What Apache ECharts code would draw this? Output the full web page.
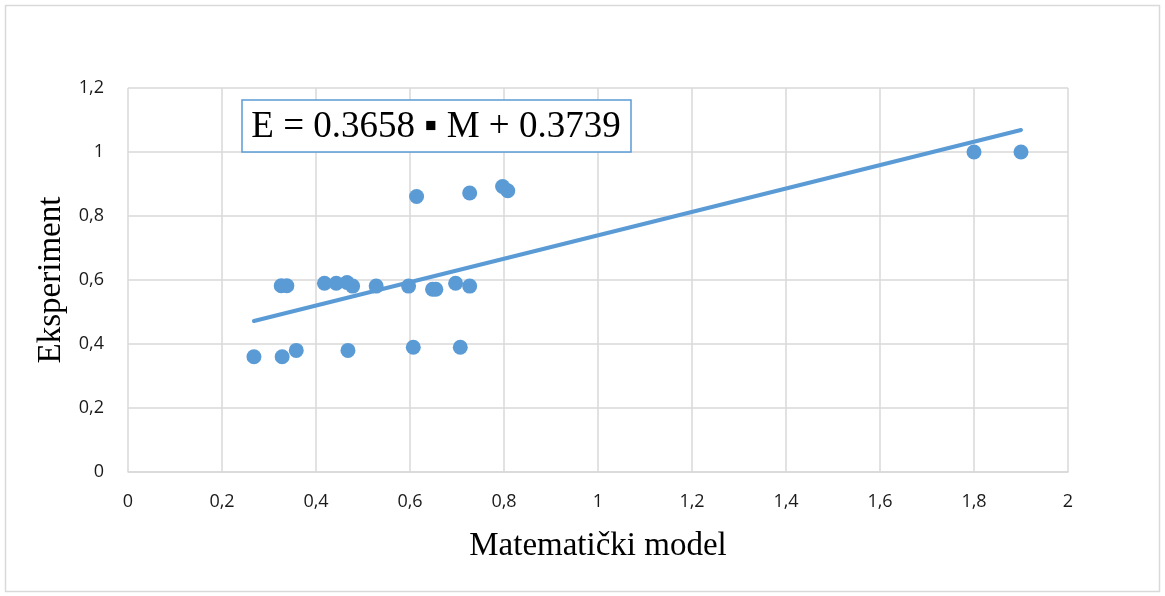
<!DOCTYPE html>
<html>
<head>
<meta charset="utf-8">
<script src="https://cdn.jsdelivr.net/npm/echarts@6/dist/echarts.min.js"></script>
<style>
  html, body { margin: 0; padding: 0; background: #fff; }
  #chart { width: 1165px; height: 596px; }
</style>
</head>
<body>
<div id="chart"></div>
<script>
// Model prediction (M) vs. measured value (E)
const modelValues = [0.268, 0.328, 0.358, 0.468, 0.607, 0.707,
  0.326, 0.338, 0.418, 0.443, 0.466, 0.478, 0.528, 0.597, 0.648, 0.655, 0.697, 0.727,
  0.614, 0.727, 0.797, 0.808, 1.8, 1.9];
const experimentValues = [0.36, 0.36, 0.38, 0.38, 0.39, 0.39,
  0.582, 0.582, 0.59, 0.59, 0.592, 0.581, 0.581, 0.581, 0.571, 0.571, 0.59, 0.581,
  0.861, 0.872, 0.892, 0.879, 1.0, 1.0];

// Linear fit E = slope * M + intercept
const slope = 0.3658;
const intercept = 0.3739;

const xTicks = [0, 0.2, 0.4, 0.6, 0.8, 1, 1.2, 1.4, 1.6, 1.8, 2];
const yTicks = [0, 0.2, 0.4, 0.6, 0.8, 1, 1.2];

const points = modelValues.map((m, i) => [m, experimentValues[i]]);
const xMin = Math.min(...modelValues);
const xMax = Math.max(...modelValues);
const fitLine = [[xMin, slope * xMin + intercept], [xMax, slope * xMax + intercept]];

const fmt = v => String(v).replace('.', ',');
const blue = '#5b9bd5';
const gridColor = '#d9d9d9';
const tickFont = { fontFamily: 'Open Sans, Liberation Sans, sans-serif', fontSize: 18, color: '#1a1a1a' };
const titleFont = { fontFamily: 'Liberation Serif, serif', fontSize: 33, color: '#000' };

const chart = echarts.init(document.getElementById('chart'), null, { renderer: 'canvas' });
chart.setOption({
  animation: false,
  backgroundColor: '#fff',
  grid: { left: 128, right: 97, top: 88, bottom: 124, containLabel: false },
  xAxis: {
    type: 'value', min: xTicks[0], max: xTicks[xTicks.length - 1], interval: 0.2,
    name: 'Matematički model', nameLocation: 'middle', nameGap: 58,
    nameTextStyle: titleFont,
    axisLine: { show: true, lineStyle: { color: gridColor, width: 1.5 } },
    axisTick: { show: false },
    axisLabel: { ...tickFont, margin: 21, formatter: fmt },
    splitLine: { show: true, lineStyle: { color: gridColor, width: 1.5 } }
  },
  yAxis: {
    type: 'value', min: yTicks[0], max: yTicks[yTicks.length - 1], interval: 0.2,
    name: 'Eksperiment', nameLocation: 'middle', nameGap: 57, nameRotate: 90,
    nameTextStyle: titleFont,
    axisLine: { show: false },
    axisTick: { show: false },
    axisLabel: { ...tickFont, margin: 24, formatter: fmt },
    splitLine: { show: true, lineStyle: { color: gridColor, width: 1.5 } }
  },
  series: [
    {
      type: 'line', data: fitLine, showSymbol: false, symbol: 'none',
      lineStyle: { color: blue, width: 4, cap: 'round' }, z: 2
    },
    {
      type: 'scatter', data: points, symbol: 'circle', symbolSize: 15,
      itemStyle: { color: blue, opacity: 1 }, z: 3
    }
  ],
  graphic: [
    {
      type: 'rect', silent: true,
      shape: { x: 5.5, y: 5.5, width: 1154, height: 586 },
      style: { fill: 'none', stroke: gridColor, lineWidth: 1.5 }
    },
    {
      type: 'rect', z: 10, silent: true,
      shape: { x: 242, y: 100, width: 389, height: 52 },
      style: { fill: '#fff', stroke: blue, lineWidth: 1.5 }
    },
    {
      type: 'text', z: 11, silent: true, x: 436, y: 127,
      style: { text: 'E = 0.3658 \u25AA M + 0.3739', fontFamily: 'Liberation Serif, serif',
               fontSize: 37, fill: '#000', align: 'center', verticalAlign: 'middle' }
    }
  ]
});
</script>
</body>
</html>
